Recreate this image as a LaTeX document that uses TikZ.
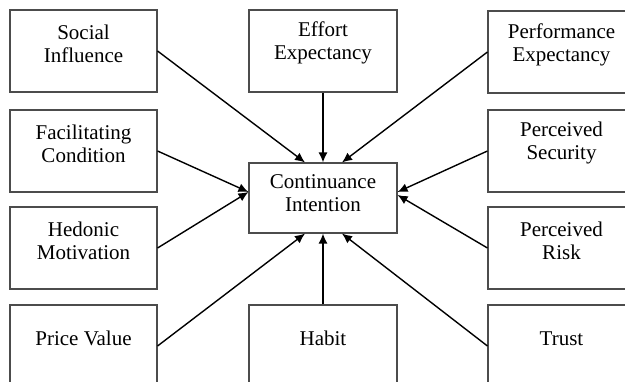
\documentclass[tikz,border=0pt]{standalone}
\usepackage{fontspec}
\setmainfont{Liberation Serif}
\usetikzlibrary{arrows.meta}
\begin{document}
\begin{tikzpicture}[x=1pt,y=-1pt,
  factor/.style={draw=black!70,line width=1.1pt,minimum width=147pt,minimum height=82pt,inner sep=0pt},
  core/.style={draw=black!70,line width=1.1pt,minimum width=148pt,minimum height=70pt,inner sep=0pt},
  lbl/.style={align=center,font=\fontsize{21}{23}\selectfont,inner sep=0pt},
  link/.style={line width=1.4pt,-{Latex[length=10pt,width=9pt]}}]
\useasboundingbox (0,0) rectangle (625,382);
% left column
\node[factor] (SI) at (83.5,51) {};
\node[factor] (FC) at (83.5,151) {};
\node[factor] (HM) at (83.5,248) {};
\node[factor] (PV) at (83.5,346) {};
% middle column
\node[factor,minimum width=148pt] (EE) at (323,51) {};
\node[core] (CI) at (323,198) {};
\node[factor,minimum width=148pt] (HB) at (323,346) {};
% right column
\node[factor] (PE) at (561.5,52) {};
\node[factor] (PS) at (561.5,151) {};
\node[factor] (PR) at (561.5,248) {};
\node[factor] (TR) at (561.5,346) {};
% texts
\node[lbl] (tSI) at ([yshift=-34pt]SI.north) {Social\\Influence};
\node[lbl] (tFC) at ([yshift=-34pt]FC.north) {Facilitating\\Condition};
\node[lbl] (tHM) at ([yshift=-34pt]HM.north) {Hedonic\\Motivation};
\node[lbl] (tPV) at ([yshift=-34pt]PV.north) {Price Value};
\node[lbl] (tEE) at ([yshift=-33pt]EE.north) {Effort\\Expectancy};
\node[lbl] (tCI) at ([yshift=-31pt]CI.north) {Continuance\\Intention};
\node[lbl] (tHB) at ([yshift=-34pt]HB.north) {Habit};
\node[lbl] (tPE) at ([yshift=-34pt]PE.north) {Performance\\Expectancy};
\node[lbl] (tPS) at ([yshift=-34pt]PS.north) {Perceived\\Security};
\node[lbl] (tPR) at ([yshift=-34pt]PR.north) {Perceived\\Risk};
\node[lbl] (tTR) at ([yshift=-34pt]TR.north) {Trust};
% arrows
\draw[link] (SI.east) -- ([xshift=-18pt]CI.north);
\draw[link] (EE.south) -- (CI.north);
\draw[link] (PE.west) -- ([xshift=19pt]CI.north);
\draw[link] (FC.east) -- ([yshift=6pt]CI.west);
\draw[link] (HM.east) -- ([yshift=6pt]CI.west);
\draw[link] (PS.west) -- ([yshift=6pt]CI.east);
\draw[link] (PR.west) -- ([yshift=3pt]CI.east);
\draw[link] (PV.east) -- ([xshift=-18pt]CI.south);
\draw[link] (HB.north) -- (CI.south);
\draw[link] (TR.west) -- ([xshift=19pt]CI.south);
\end{tikzpicture}
\end{document}
